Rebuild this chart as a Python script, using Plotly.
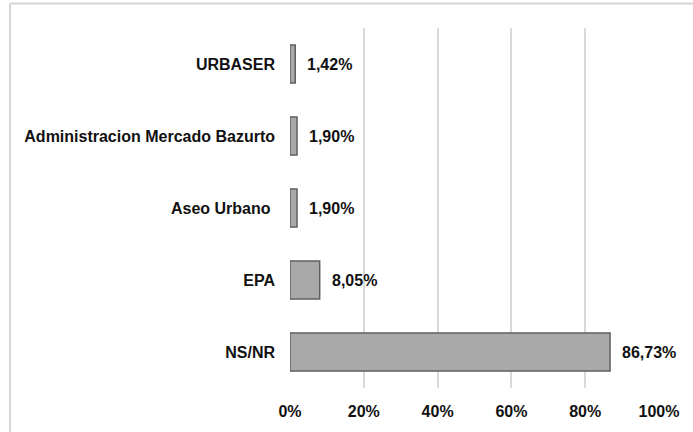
import plotly.graph_objects as go

categories = ["NS/NR", "EPA", "Aseo Urbano\u00a0", "Administracion Mercado Bazurto", "URBASER"]
values = [86.73, 8.05, 1.90, 1.90, 1.42]
value_labels = ["86,73%", "8,05%", "1,90%", "1,90%", "1,42%"]
tick_vals = [0, 20, 40, 60, 80, 100]
tick_text = ["0%", "20%", "40%", "60%", "80%", "100%"]

FONT = "Liberation Sans, Arial, sans-serif"

fig = go.Figure()
fig.add_trace(go.Bar(
    x=values, y=categories, orientation="h",
    marker=dict(color="#a9a9a9", line=dict(color="#5f5f5f", width=1.5)),
    hoverinfo="skip",
))

for v, c, t in zip(values, categories, value_labels):
    fig.add_annotation(x=v, y=c, text=t, showarrow=False, xanchor="left",
                       xshift=10, font=dict(family=FONT, size=16, color="#111111", weight="bold"))

# outer chart frame (left and top edges visible)
fx0 = (10 - 290) / 369
fy1 = (388 - 3.5) / 360
fig.add_shape(type="line", xref="paper", yref="paper", x0=fx0, x1=1.2, y0=fy1, y1=fy1,
              line=dict(color="#d6d6d6", width=2), layer="below")
fig.add_shape(type="line", xref="paper", yref="paper", x0=fx0, x1=fx0, y0=-0.3, y1=fy1,
              line=dict(color="#d6d6d6", width=2), layer="below")

fig.update_layout(
    width=693, height=432,
    margin=dict(l=290, r=34, t=28, b=44),
    paper_bgcolor="white", plot_bgcolor="white",
    bargap=0.47, showlegend=False,
    font=dict(family=FONT, size=16, color="#111111"),
    xaxis=dict(range=[0, 100], tickvals=tick_vals, ticktext=tick_text,
               showgrid=True, gridcolor="#d9d9d9", gridwidth=2,
               zeroline=False, showline=False, ticks="",
               ticklabelstandoff=12,
               tickfont=dict(family=FONT, size=16, color="#111111", weight="bold")),
    yaxis=dict(showgrid=False, zeroline=False, showline=False, ticks="",
               ticklabelstandoff=14,
               tickfont=dict(family=FONT, size=16, color="#111111", weight="bold")),
)

fig.write_html("out.html", config={"displayModeBar": False},
               post_script="document.body.style.margin='0';document.body.style.overflow='hidden';")
